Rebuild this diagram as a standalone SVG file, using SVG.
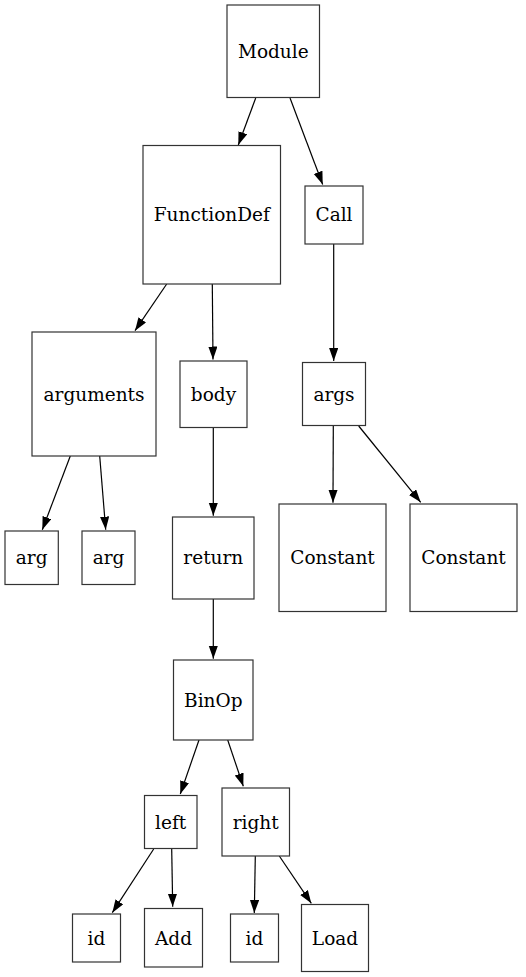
<svg xmlns="http://www.w3.org/2000/svg" width="526" height="977" viewBox="0 0 526 977">
<style>
.n rect{fill:#fff;stroke:#333;stroke-width:1.2}
.n text{font-family:"DejaVu Serif",serif;font-size:18.5px;fill:#000;text-anchor:middle}
#edges line{stroke:#000;stroke-width:1.2;marker-end:url(#ah)}
</style>
<defs>
<marker id="ah" markerUnits="userSpaceOnUse" markerWidth="14" markerHeight="10" refX="13" refY="4.6" orient="auto">
<path d="M0,0 L13,4.6 L0,9.2 z" fill="#000"/>
</marker>
</defs>
<rect width="526" height="977" fill="#fff"/>
<g id="edges">
<line x1="255.7" y1="98" x2="238.3" y2="145"/>
<line x1="290" y1="98" x2="322.7" y2="184.5"/>
<line x1="166.7" y1="284" x2="135" y2="330.7"/>
<line x1="212.3" y1="284" x2="213" y2="359.5"/>
<line x1="333.7" y1="244" x2="333.7" y2="361"/>
<line x1="70.3" y1="456" x2="42.3" y2="529.7"/>
<line x1="99.7" y1="456" x2="105.7" y2="529.7"/>
<line x1="213.3" y1="427.5" x2="213.3" y2="515.7"/>
<line x1="333.3" y1="426" x2="333" y2="502.7"/>
<line x1="358.7" y1="426" x2="420.7" y2="502.3"/>
<line x1="213.3" y1="599" x2="213.3" y2="658.7"/>
<line x1="199" y1="740" x2="180.3" y2="794"/>
<line x1="227.7" y1="740" x2="243.3" y2="786.3"/>
<line x1="153.7" y1="849" x2="112.3" y2="912.7"/>
<line x1="171.7" y1="849" x2="172.7" y2="906.7"/>
<line x1="255.3" y1="856" x2="254.3" y2="913"/>
<line x1="279.3" y1="856" x2="311.3" y2="903.3"/>
</g>
<g id="module" class="n"><rect x="227" y="5" width="92.5" height="92.5"/><text x="273.3" y="58">Module</text></g>
<g id="functiondef" class="n"><rect x="143" y="145.5" width="137.5" height="138.5"/><text x="211.8" y="221">FunctionDef</text></g>
<g id="call" class="n"><rect x="305" y="186" width="58" height="58"/><text x="334" y="221">Call</text></g>
<g id="arguments" class="n"><rect x="32" y="332" width="124" height="124"/><text x="94" y="400.7">arguments</text></g>
<g id="body" class="n"><rect x="180" y="361" width="67" height="66.5"/><text x="213.5" y="400.7">body</text></g>
<g id="args" class="n"><rect x="302.5" y="362.5" width="63" height="63"/><text x="334" y="400.7">args</text></g>
<g id="arg1" class="n"><rect x="5" y="531" width="53.3" height="53.5"/><text x="31.7" y="564">arg</text></g>
<g id="arg2" class="n"><rect x="82" y="531" width="53" height="53.5"/><text x="108.5" y="564">arg</text></g>
<g id="return" class="n"><rect x="172.5" y="517" width="81.5" height="82"/><text x="213.3" y="564">return</text></g>
<g id="constant1" class="n"><rect x="279" y="504" width="107" height="107.5"/><text x="332.5" y="564">Constant</text></g>
<g id="constant2" class="n"><rect x="410" y="504" width="107" height="107.5"/><text x="463.5" y="564">Constant</text></g>
<g id="binop" class="n"><rect x="173.5" y="660" width="79.5" height="80"/><text x="213.3" y="706.5">BinOp</text></g>
<g id="left" class="n"><rect x="144.5" y="795.5" width="52.5" height="53"/><text x="170.7" y="828.5">left</text></g>
<g id="right" class="n"><rect x="222" y="788" width="67.5" height="68"/><text x="255.7" y="828.5">right</text></g>
<g id="id1" class="n"><rect x="72.5" y="914" width="48" height="48"/><text x="96.5" y="944.5">id</text></g>
<g id="add" class="n"><rect x="144.5" y="908.5" width="58" height="58.5"/><text x="173.5" y="944.5">Add</text></g>
<g id="id2" class="n"><rect x="230.5" y="914" width="48" height="48"/><text x="254.5" y="944.5">id</text></g>
<g id="load" class="n"><rect x="301.5" y="904.5" width="67" height="67"/><text x="335" y="944.5">Load</text></g>
</svg>
